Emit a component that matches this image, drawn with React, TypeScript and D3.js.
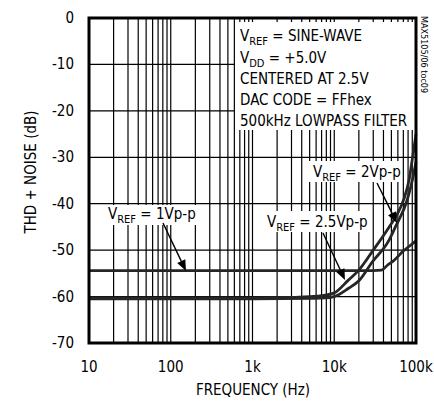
import React, { useEffect, useRef } from 'react';
import * as d3 from 'd3';

// frequency axis (Hz) and dB axis
const freqDecades = [10, 100, 1000, 10000, 100000];
const freqLabels = ['10', '100', '1k', '10k', '100k'];
const dbTicks = [0, -10, -20, -30, -40, -50, -60, -70];

// VREF = 2.5Vp-p (rises first)
const vref25Freq = [10, 100, 1000, 3000, 5000, 7000, 10000, 15000, 20000, 30000, 47000, 60000, 71000, 82000, 90000, 100000];
const vref25Db = [-60.3, -60.3, -60.3, -60.2, -60.0, -59.8, -59.2, -56.4, -54.3, -50.0, -45.0, -42.0, -39.0, -35.0, -30.5, -25.0];

// VREF = 2Vp-p
const vref2Freq = [10, 100, 1000, 5000, 8700, 10000, 15000, 20000, 29000, 47000, 56000, 78000, 90000, 100000];
const vref2Db = [-60.5, -60.5, -60.5, -60.4, -60.2, -60.0, -58.2, -56.6, -52.6, -47.8, -45.0, -39.2, -35.0, -31.0];

// VREF = 1Vp-p
const vref1Freq = [10, 100, 1000, 10000, 30000, 38000, 45000, 53000, 70000, 85000, 100000];
const vref1Db = [-54.4, -54.4, -54.4, -54.4, -54.4, -54.3, -53.2, -52.3, -50.2, -49.0, -48.0];

const conditions = ['SINE-WAVE', '+5.0V', 'CENTERED AT 2.5V', 'DAC CODE = FFhex', '500kHz LOWPASS FILTER'];

const FONT = "'Liberation Sans Narrow', 'DejaVu Sans Condensed', 'Arial Narrow', sans-serif";

const App = () => {
  const chartRef = useRef<SVGSVGElement>(null);

  useEffect(() => {
    const svg = d3.select(chartRef.current);
    svg.selectAll('*').remove();

    const x = d3.scaleLog().domain([10, 100000]).range([89, 416]);
    const y = d3.scaleLinear().domain([-70, 0]).range([343, 18]);

    const g = svg.append('g');

    // vertical grid (log minor + decades)
    g.selectAll('.vgrid')
      .data(x.ticks())
      .enter()
      .append('line')
      .attr('x1', d => x(d))
      .attr('x2', d => x(d))
      .attr('y1', y(0))
      .attr('y2', y(-70))
      .attr('stroke', '#000')
      .attr('stroke-width', 1.2);

    // horizontal grid
    g.selectAll('.hgrid')
      .data(dbTicks)
      .enter()
      .append('line')
      .attr('x1', x(10))
      .attr('x2', x(100000))
      .attr('y1', d => y(d))
      .attr('y2', d => y(d))
      .attr('stroke', '#000')
      .attr('stroke-width', 1.2);

    // conditions box hides the grid
    g.append('rect')
      .attr('x', 235).attr('y', 22).attr('width', 180).attr('height', 108)
      .attr('fill', '#fff');

    const line = d3.line<[number, number]>()
      .x(d => x(d[0]))
      .y(d => y(d[1]))
      .curve(d3.curveMonotoneX);

    const series = [
      { f: vref1Freq, v: vref1Db },
      { f: vref2Freq, v: vref2Db },
      { f: vref25Freq, v: vref25Db },
    ];
    series.forEach(s => {
      g.append('path')
        .datum(s.f.map((f, i) => [f, s.v[i]] as [number, number]))
        .attr('d', line)
        .attr('fill', 'none')
        .attr('stroke', '#262626')
        .attr('stroke-width', 2.8);
    });

    // frame
    g.append('rect')
      .attr('x', x(10)).attr('y', y(0))
      .attr('width', x(100000) - x(10)).attr('height', y(-70) - y(0))
      .attr('fill', 'none').attr('stroke', '#000').attr('stroke-width', 3);

    // tick labels
    g.selectAll('.ylab')
      .data(dbTicks)
      .enter()
      .append('text')
      .attr('x', 74)
      .attr('y', d => y(d) + 5)
      .attr('text-anchor', 'end')
      .style('font-family', FONT)
      .style('font-size', '15px')
      .text(d => `${d}`);

    g.selectAll('.xlab')
      .data(freqDecades)
      .enter()
      .append('text')
      .attr('x', d => x(d))
      .attr('y', 372)
      .attr('text-anchor', 'middle')
      .style('font-family', FONT)
      .style('font-size', '15px')
      .text((d, i) => freqLabels[i]);

    g.append('text')
      .attr('x', 253).attr('y', 395)
      .attr('text-anchor', 'middle')
      .style('font-family', FONT).style('font-size', '15px')
      .text('FREQUENCY (Hz)');

    g.append('text')
      .attr('transform', 'translate(36,172) rotate(-90)')
      .attr('text-anchor', 'middle')
      .style('font-family', FONT).style('font-size', '15px')
      .text('THD + NOISE (dB)');

    g.append('text')
      .attr('transform', 'translate(421,16) rotate(90)')
      .style('font-family', FONT).style('font-size', '9px')
      .text('MAX5105/06 toc09');

    // subscripted label helper
    const addLabel = (tx: number, ty: number, main: string, sub: string, rest: string) => {
      const t = g.append('text')
        .attr('x', tx).attr('y', ty)
        .style('font-family', FONT).style('font-size', '15px');
      t.append('tspan').text(main);
      t.append('tspan').attr('dy', 4).style('font-size', '11px').text(sub);
      t.append('tspan').attr('dy', -4).text(rest);
      return t;
    };

    // conditions text
    addLabel(240, 41, 'V', 'REF', ' = ' + conditions[0]);
    addLabel(240, 63, 'V', 'DD', ' = ' + conditions[1]);
    conditions.slice(2).forEach((c, i) => {
      g.append('text')
        .attr('x', 240).attr('y', 84 + i * 21)
        .style('font-family', FONT).style('font-size', '15px')
        .text(c);
    });

    // curve labels with arrows
    const arrow = (x1: number, y1: number, x2: number, y2: number) => {
      const ang = Math.atan2(y2 - y1, x2 - x1);
      const len = 11, w = 4.5;
      const bx = x2 - len * Math.cos(ang), by = y2 - len * Math.sin(ang);
      g.append('line')
        .attr('x1', x1).attr('y1', y1).attr('x2', bx).attr('y2', by)
        .attr('stroke', '#000').attr('stroke-width', 1.4);
      g.append('path')
        .attr('d', `M${x2},${y2}L${bx + w * Math.sin(ang)},${by - w * Math.cos(ang)}L${bx - w * Math.sin(ang)},${by + w * Math.cos(ang)}Z`)
        .attr('fill', '#000');
    };

    const labels = [
      { box: [104, 205, 104, 20], tx: 108, ty: 219, rest: ' = 1Vp-p', a: [163, 223, 186, 271] },
      { box: [309, 161, 92, 21], tx: 313, ty: 177, rest: ' = 2Vp-p', a: [377, 183, 397, 223] },
      { box: [263, 211, 106, 21], tx: 267, ty: 227, rest: ' = 2.5Vp-p', a: [323, 233, 345, 280] },
    ];
    labels.forEach(l => {
      g.append('rect')
        .attr('x', l.box[0]).attr('y', l.box[1]).attr('width', l.box[2]).attr('height', l.box[3])
        .attr('fill', '#fff');
      addLabel(l.tx, l.ty, 'V', 'REF', l.rest);
      arrow(l.a[0], l.a[1], l.a[2], l.a[3]);
    });
  }, []);

  return (
    <div style={{ position: 'absolute', left: 0, top: 0 }}>
      <svg ref={chartRef} width={434} height={402} style={{ display: 'block', background: '#fff' }} />
    </div>
  );
};

export default App;
